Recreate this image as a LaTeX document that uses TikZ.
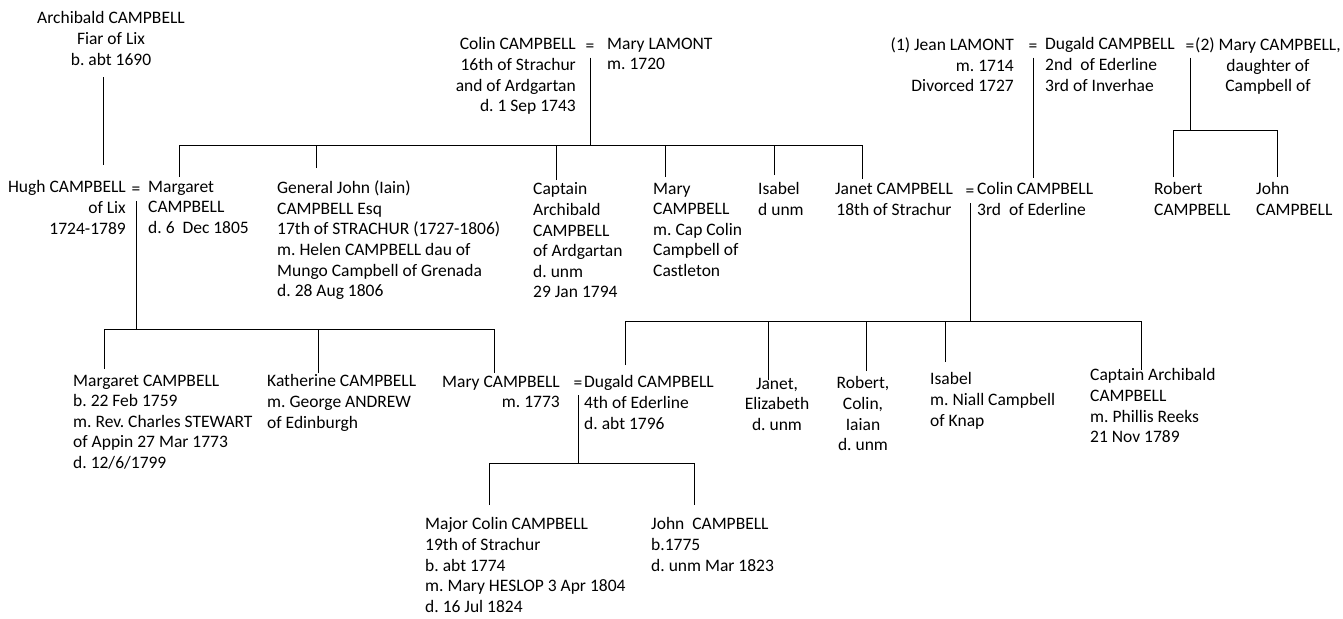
\documentclass[tikz,border=0pt]{standalone}
\usepackage{fontspec}
\setmainfont{Carlito}
\usepackage{tikz}
\usetikzlibrary{calc}
\newcommand{\treefont}{\fontsize{17.5}{20.6}\selectfont\frenchspacing}

\begin{document}
\begin{tikzpicture}[x=1pt, y=-1pt,
  person/.style={inner sep=0pt, font=\treefont, execute at begin node=\strut},
  link/.style={line width=0.9pt}]
\useasboundingbox (0,0) rectangle (1343,618);
% first generation
\node[person, align=center, anchor=north] (archibald) at (111,11.6) {Archibald CAMPBELL\\Fiar of Lix\\b. abt 1690};
\node[person, align=right, anchor=north east] (colinS) at (576,37.6) {Colin CAMPBELL\\16th of Strachur\\and of Ardgartan\\d. 1 Sep 1743};
\node[person, anchor=north] (eqColin) at (590,36.6) {=};
\node[person, align=left, anchor=north west] (maryL) at (607,37.6) {Mary LAMONT\\m. 1720};
\node[person, align=right, anchor=north east] (jeanL) at (1014,37.6) {(1) Jean LAMONT\\m. 1714\\Divorced 1727};
\node[person, anchor=north] (eqJean) at (1033,36.6) {=};
\node[person, align=left, anchor=north west] (dugaldE) at (1045,37.6) {Dugald CAMPBELL\\2nd~ of Ederline\\3rd of Inverhae};
\node[person, anchor=north] (eqMaryC) at (1190,36.6) {=};
\node[person, align=center, anchor=north] (maryC) at (1268,37.6) {(2) Mary CAMPBELL,\\daughter of\\Campbell of};
% second generation
\node[person, align=right, anchor=north east] (hugh) at (126,180.6) {Hugh CAMPBELL\\of Lix\\1724-1789};
\node[person, anchor=north] (eqHugh) at (136,180) {=};
\node[person, align=left, anchor=north west] (margaret) at (148,180.6) {Margaret\\CAMPBELL\\d. 6~ Dec 1805};
\node[person, align=left, anchor=north west] (generalJohn) at (277,180.6) {General John (Iain)\\CAMPBELL Esq\\17th of STRACHUR (1727-1806)\\m. Helen CAMPBELL dau of\\Mungo Campbell of Grenada\\d. 28 Aug 1806};
\node[person, align=left, anchor=north west] (captArch) at (533,182.6) {Captain\\Archibald\\CAMPBELL\\of Ardgartan\\d. unm\\29 Jan 1794};
\node[person, align=left, anchor=north west] (maryCast) at (653,182.6) {Mary\\CAMPBELL\\m. Cap Colin\\Campbell of\\Castleton};
\node[person, align=left, anchor=north west] (isabelS) at (758,182.6) {Isabel\\d unm};
\node[person, align=center, anchor=north] (janetS) at (894,183) {Janet CAMPBELL\\18th of Strachur};
\node[person, anchor=north] (eqJanet) at (970,182) {=};
\node[person, align=left, anchor=north west] (colinE) at (977,182.6) {Colin CAMPBELL\\3rd~ of Ederline};
\node[person, align=left, anchor=north west] (robertC) at (1154,182.6) {Robert\\CAMPBELL};
\node[person, align=left, anchor=north west] (johnC) at (1256,182.6) {John\\CAMPBELL};
% third generation
\node[person, align=left, anchor=north west] (margaretC) at (73,374.6) {Margaret CAMPBELL\\b. 22 Feb 1759\\m. Rev. Charles STEWART\\of Appin 27 Mar 1773\\d. 12/6/1799};
\node[person, align=left, anchor=north west] (katherine) at (267,374.6) {Katherine CAMPBELL\\m. George ANDREW\\of Edinburgh};
\node[person, align=right, anchor=north east] (maryM) at (560,375.6) {Mary CAMPBELL\\m. 1773};
\node[person, anchor=north] (eqMary) at (578,374) {=};
\node[person, align=left, anchor=north west] (dugaldF) at (584,375.6) {Dugald CAMPBELL\\4th of Ederline\\d. abt 1796};
\node[person, align=center, anchor=north] (janetE) at (777,377.6) {Janet,\\Elizabeth\\d. unm};
\node[person, align=center, anchor=north] (robertI) at (863,376.6) {Robert,\\Colin,\\Iaian\\d. unm};
\node[person, align=left, anchor=north west] (isabelK) at (930,372.6) {Isabel\\m. Niall Campbell\\of Knap};
\node[person, align=left, anchor=north west] (archibaldR) at (1090,368.6) {Captain Archibald\\CAMPBELL\\m. Phillis Reeks\\21 Nov 1789};
% fourth generation
\node[person, align=left, anchor=north west] (colinM) at (425,517.6) {Major Colin CAMPBELL\\19th of Strachur\\b. abt 1774\\m. Mary HESLOP 3 Apr 1804\\d. 16 Jul 1824};
\node[person, align=left, anchor=north west] (johnB) at (651,517.6) {John~ CAMPBELL\\b.1775\\d. unm Mar 1823};
% bar heights
\coordinate (barA) at (0,145);
\coordinate (barB) at (0,329);
\coordinate (barC) at (0,321);
\coordinate (barD) at (0,463);
\coordinate (barE) at (0,130);
% ends of the lines above the children
\coordinate (archibald-down) at (103,77);
\coordinate (hugh-up) at (103,165);
\coordinate (margaret-up) at (179,177);
\coordinate (generalJohn-up) at (316,168);
\coordinate (captArch-up) at (556,180);
\coordinate (maryCast-up) at (665,177);
\coordinate (isabelS-up) at (774,175);
\coordinate (janetS-up) at (862,179);
\coordinate (colinE-up) at (1033,178);
\coordinate (robertC-up) at (1173,177);
\coordinate (johnC-up) at (1277,177);
\coordinate (margaretC-up) at (104,369);
\coordinate (katherine-up) at (318,373);
\coordinate (maryM-up) at (494,373);
\coordinate (dugaldF-up) at (625,365);
\coordinate (janetE-up) at (768,380);
\coordinate (robertI-up) at (866,371);
\coordinate (isabelK-up) at (945,362);
\coordinate (archibaldR-up) at (1141,370);
\coordinate (colinM-up) at (489,505);
\coordinate (johnB-up) at (694,505);
% single descent lines
\draw[link] (archibald-down) -- (hugh-up);
\draw[link] (eqJean.south) -- (colinE-up);
% Colin and Mary LAMONT
\draw[link] (eqColin.south) -- (eqColin.south |- barA);
\draw[link] (margaret-up) |- (janetS-up |- barA) -- (janetS-up);
\draw[link] (generalJohn-up) -- (generalJohn-up |- barA);
\draw[link] (captArch-up) -- (captArch-up |- barA);
\draw[link] (maryCast-up) -- (maryCast-up |- barA);
\draw[link] (isabelS-up) -- (isabelS-up |- barA);
% Dugald and Mary CAMPBELL
\draw[link] (eqMaryC.south) -- (eqMaryC.south |- barE);
\draw[link] (robertC-up) |- (johnC-up |- barE) -- (johnC-up);
% Hugh and Margaret
\draw[link] (eqHugh.south) -- (eqHugh.south |- barB);
\draw[link] (margaretC-up) |- (maryM-up |- barB) -- (maryM-up);
\draw[link] (katherine-up) -- (katherine-up |- barB);
% Janet and Colin
\draw[link] (eqJanet.south) -- (eqJanet.south |- barC);
\draw[link] (dugaldF-up) |- (archibaldR-up |- barC) -- (archibaldR-up);
\draw[link] (janetE-up) -- (janetE-up |- barC);
\draw[link] (robertI-up) -- (robertI-up |- barC);
\draw[link] (isabelK-up) -- (isabelK-up |- barC);
% Mary and Dugald
\draw[link] (eqMary.south) -- (eqMary.south |- barD);
\draw[link] (colinM-up) |- (johnB-up |- barD) -- (johnB-up);
\end{tikzpicture}
\end{document}
